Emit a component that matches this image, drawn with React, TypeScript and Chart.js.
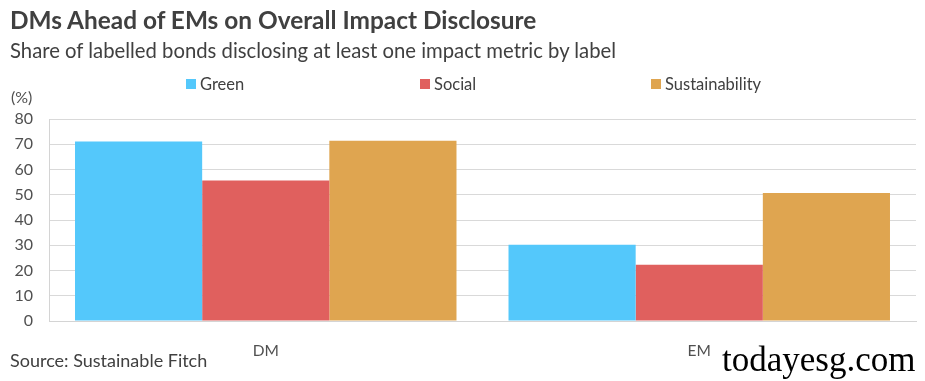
import React, { useEffect, useRef } from "react";
import { Chart, registerables } from "chart.js";

Chart.register(...registerables);

const categories = ["DM", "EM"];
const seriesNames = ["Green", "Social", "Sustainability"];
const greenValues = [71.1, 30.2];
const socialValues = [55.6, 22.3];
const sustainabilityValues = [71.4, 50.7];
const seriesColors = ["#54C8FB", "#E0605E", "#DFA550"];
const yTicks = [0, 10, 20, 30, 40, 50, 60, 70, 80];

const titleText = "DMs Ahead of EMs on Overall Impact Disclosure";
const subtitleText = "Share of labelled bonds disclosing at least one impact metric by label";
const sourceText = "Source: Sustainable Fitch";
const unitText = "(%)";
const watermarkText = "todayesg.com";

export default function App() {
  const canvasRef = useRef<HTMLCanvasElement | null>(null);

  useEffect(() => {
    if (!canvasRef.current) return;
    const values = [greenValues, socialValues, sustainabilityValues];
    const chart = new Chart(canvasRef.current, {
      type: "bar",
      data: {
        labels: categories,
        datasets: seriesNames.map((name, i) => ({
          label: name,
          data: values[i],
          backgroundColor: seriesColors[i],
          borderWidth: 0,
          barPercentage: 1,
          categoryPercentage: 0.88,
        })),
      },
      options: {
        animation: false,
        responsive: false,
        maintainAspectRatio: false,
        layout: { padding: { top: 119, right: 9, left: 0, bottom: 0 } },
        plugins: {
          legend: { display: false },
          tooltip: { enabled: false },
          title: { display: false },
        },
        scales: {
          x: {
            grid: { display: false },
            border: { display: true, color: "#d4d4d4", width: 1 },
            ticks: {
              color: "#505050",
              font: { family: "Lato", size: 15.5 },
              padding: 13,
            },
            afterFit: (scale: any) => {
              scale.height = 60;
            },
          },
          y: {
            min: 0,
            max: 80,
            afterBuildTicks: (scale: any) => {
              scale.ticks = yTicks.map((v) => ({ value: v }));
            },
            grid: { color: "#d9d9d9", drawTicks: false, lineWidth: 1 },
            border: { display: true, color: "#d4d4d4", width: 1 },
            ticks: {
              color: "#505050",
              font: { family: "Lato", size: 16 },
              padding: 16,
            },
            afterFit: (scale: any) => {
              scale.width = 49;
            },
          },
        },
      },
    });
    return () => chart.destroy();
  }, []);

  const baseText: React.CSSProperties = {
    position: "absolute",
    fontFamily: "Lato",
    whiteSpace: "nowrap",
    lineHeight: 1,
    margin: 0,
  };
  const legendLefts = [186, 420, 651];

  return (
    <div
      style={{
        position: "absolute",
        left: 0,
        top: 0,
        width: 925,
        height: 381,
        background: "#ffffff",
        overflow: "hidden",
      }}
    >
      <canvas ref={canvasRef} width={925} height={381} style={{ position: "absolute", left: 0, top: 0 }} />
      <div style={{ ...baseText, left: 10, top: 8, fontSize: 24.4, fontWeight: 700, color: "#404040" }}>{titleText}</div>
      <div style={{ ...baseText, left: 10, top: 40, fontSize: 20.3, color: "#404040" }}>{subtitleText}</div>
      {seriesNames.map((name, i) => (
        <div
          key={name}
          style={{ ...baseText, left: legendLefts[i], top: 76, fontSize: 16.5, color: "#404040", display: "flex", alignItems: "center" }}
        >
          <span style={{ display: "inline-block", width: 10, height: 10, background: seriesColors[i], marginRight: 4 }} />
          <span>{name}</span>
        </div>
      ))}
      <div style={{ ...baseText, left: 11, top: 89, fontSize: 16, color: "#505050" }}>{unitText}</div>
      <div style={{ ...baseText, left: 10, top: 351, fontSize: 18, color: "#404040" }}>{sourceText}</div>
      <div style={{ ...baseText, left: 722, top: 342, fontSize: 35, fontFamily: "Liberation Serif", color: "#000000" }}>{watermarkText}</div>
    </div>
  );
}
